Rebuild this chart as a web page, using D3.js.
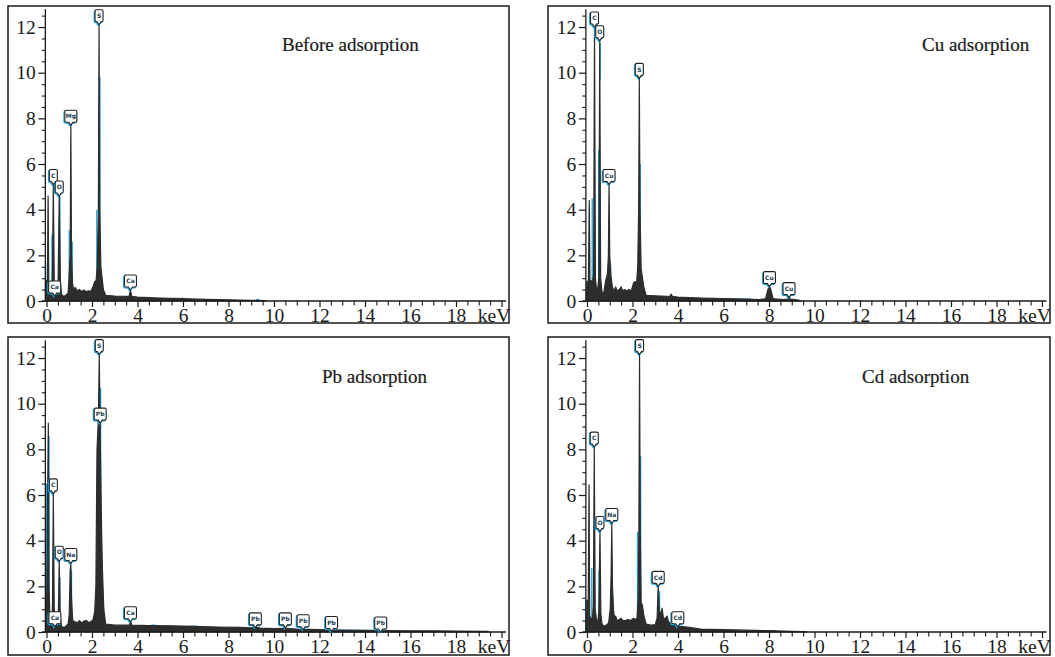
<!DOCTYPE html>
<html>
<head>
<meta charset="utf-8">
<script src="https://cdn.jsdelivr.net/npm/d3@7"></script>
<style>
  html, body { margin: 0; padding: 0; background: #fff; }
  svg { display: block; }
</style>
</head>
<body>
<svg id="chart" width="1055" height="657"></svg>
<script>
// EDS spectra of the adsorbent: energy (keV) vs. counts (thousands)

const panelTitles = ["Before adsorption", "Cu adsorption", "Pb adsorption", "Cd adsorption"];

const xTickValues = [0, 2, 4, 6, 8, 10, 12, 14, 16, 18, 20];
const xTickLabels = ["0", "2", "4", "6", "8", "10", "12", "14", "16", "18", "keV"];
const yTickValues = [0, 2, 4, 6, 8, 10, 12];

// spectrum outlines: [keV, counts]
const spectrumBefore = [[-0.02,0],[0.00,0.9],[0.04,0.7],[0.07,4.6],[0.10,0.7],[0.16,0.45],[0.22,0.5],[0.26,1.0],[0.30,5.1],[0.34,0.9],[0.40,0.5],[0.46,0.6],[0.51,0.9],[0.56,4.6],[0.61,0.8],[0.66,0.3],[0.75,0.2],[0.85,0.25],[0.95,0.35],[1.00,1.2],[1.04,2.0],[1.07,7.7],[1.10,2.0],[1.14,0.8],[1.20,0.45],[1.26,0.6],[1.35,0.45],[1.45,0.5],[1.55,0.42],[1.65,0.48],[1.75,0.4],[1.85,0.45],[1.95,0.42],[2.05,0.65],[2.12,0.85],[2.18,0.9],[2.23,1.5],[2.28,4.0],[2.31,12.1],[2.34,4.0],[2.39,1.5],[2.44,1.05],[2.50,0.5],[2.60,0.25],[3.0,0.22],[3.4,0.2],[3.63,0.2],[3.69,0.48],[3.75,0.2],[4.0,0.17],[4.5,0.15],[5.0,0.13],[6.0,0.1],[7.0,0.07],[8.0,0.05],[9.0,0.03],[9.6,0.02],[9.65,0]];

const spectrumCu = [[-0.02,0],[0.0,0.85],[0.06,0.7],[0.10,4.4],[0.13,0.8],[0.18,0.9],[0.24,0.8],[0.29,1.2],[0.33,12.0],[0.37,1.0],[0.42,0.5],[0.48,0.6],[0.52,1.0],[0.56,11.4],[0.60,1.0],[0.66,0.4],[0.74,0.35],[0.82,0.9],[0.90,1.2],[0.94,2.0],[0.97,5.1],[1.00,2.0],[1.05,1.1],[1.12,0.6],[1.2,0.45],[1.26,0.62],[1.32,0.45],[1.42,0.5],[1.50,0.62],[1.56,0.45],[1.65,0.5],[1.75,0.45],[1.85,0.5],[1.95,0.45],[2.05,0.8],[2.12,0.85],[2.18,0.8],[2.23,1.5],[2.27,4.0],[2.30,9.75],[2.33,4.0],[2.38,1.4],[2.44,1.0],[2.50,0.6],[2.60,0.25],[3.0,0.23],[3.5,0.2],[3.65,0.22],[3.70,0.3],[3.76,0.2],[4.0,0.17],[5.0,0.13],[6.0,0.1],[7.0,0.08],[7.6,0.06],[7.85,0.1],[7.95,0.5],[8.02,0.63],[8.08,0.5],[8.18,0.1],[8.6,0.06],[8.82,0.08],[8.88,0.2],[8.94,0.08],[9.3,0.04],[9.4,0]];

const spectrumPb = [[-0.02,0],[0.0,1.0],[0.03,3.0],[0.05,6.0],[0.08,9.15],[0.11,2.0],[0.15,0.6],[0.22,0.5],[0.26,1.0],[0.30,6.05],[0.34,1.0],[0.40,0.5],[0.46,0.4],[0.52,0.8],[0.56,3.1],[0.60,0.7],[0.66,0.25],[0.75,0.2],[0.85,0.25],[0.95,0.35],[1.00,0.8],[1.04,2.7],[1.07,3.0],[1.10,1.5],[1.15,0.5],[1.25,0.45],[1.35,0.4],[1.45,0.5],[1.55,0.4],[1.65,0.48],[1.75,0.5],[1.85,0.42],[1.95,0.45],[2.05,0.55],[2.12,0.9],[2.17,2.0],[2.22,8.0],[2.28,9.3],[2.32,12.15],[2.35,9.5],[2.42,4.5],[2.46,2.7],[2.52,1.0],[2.60,0.35],[3.0,0.3],[3.5,0.3],[3.64,0.3],[3.69,0.5],[3.75,0.3],[4.5,0.28],[5.5,0.27],[6.5,0.25],[7.5,0.22],[8.5,0.2],[9.0,0.18],[9.2,0.22],[9.4,0.17],[10.0,0.15],[10.5,0.16],[11.0,0.13],[12.0,0.1],[13.0,0.08],[14.0,0.07],[15.0,0.06],[16.0,0.05],[17.0,0.05],[18.0,0.04],[19.4,0.03],[19.45,0]];

const spectrumCd = [[-0.02,0],[0.0,1.4],[0.05,0.6],[0.09,6.45],[0.12,0.7],[0.17,0.6],[0.24,0.6],[0.28,1.2],[0.32,8.1],[0.36,1.0],[0.42,0.5],[0.48,0.5],[0.52,0.9],[0.57,4.4],[0.61,0.8],[0.66,0.35],[0.75,0.25],[0.85,0.3],[0.95,0.4],[1.02,1.0],[1.06,2.5],[1.09,4.75],[1.12,2.0],[1.16,1.0],[1.21,0.6],[1.26,0.7],[1.32,0.5],[1.42,0.55],[1.50,0.6],[1.58,0.5],[1.68,0.5],[1.80,0.55],[1.92,0.5],[2.05,0.6],[2.12,0.55],[2.20,0.6],[2.25,1.5],[2.28,4.4],[2.31,12.15],[2.34,4.5],[2.38,1.3],[2.44,1.15],[2.50,0.7],[2.60,0.35],[2.8,0.3],[3.0,0.32],[3.08,0.6],[3.13,2.0],[3.18,0.9],[3.25,0.8],[3.30,1.05],[3.36,0.6],[3.45,0.6],[3.52,0.7],[3.58,0.45],[3.75,0.35],[3.95,0.3],[4.1,0.25],[4.5,0.2],[5.0,0.13],[6.0,0.1],[7.0,0.08],[8.0,0.06],[9.0,0.03],[9.6,0.02],[9.65,0]];

// secondary (cyan) trace segments: [[keV, counts], [keV, counts]]
const traceBefore = [[[-0.04,0],[-0.04,1.7]],[[0.24,0.5],[0.24,2.9]],[[0.59,0.8],[0.59,4.6]],[[1.0,1.0],[1.0,3.1]],[[1.13,0.8],[1.13,2.6]],[[2.21,1.0],[2.21,4.0]],[[2.35,1.0],[2.35,9.8]],[[5.85,0.1],[6.0,0.12]],[[9.2,0.05],[9.35,0.08]]];
const traceCu = [[[0.0,0],[0.0,0.9]],[[0.23,0.8],[0.23,4.5]],[[0.51,0.5],[0.51,6.6]],[[0.58,9.7],[0.58,11.3]],[[1.04,1.0],[1.04,1.6]],[[2.34,1.0],[2.34,6.0]],[[6.1,0.09],[7.2,0.08]]];
const tracePb = [[[0.0,0.5],[0.0,6.5]],[[0.11,1.0],[0.11,8.6]],[[0.59,0.5],[0.59,2.4]],[[1.1,0.5],[1.1,2.7]],[[2.18,0.8],[2.18,1.8]],[[2.38,2.0],[2.38,10.7]],[[4.6,0.3],[4.8,0.3]],[[6.3,0.25],[6.6,0.26]],[[10.5,0.1],[14.7,0.06]]];
const traceCd = [[[-0.05,0],[-0.05,1.4]],[[0.21,0.6],[0.21,2.8]],[[0.53,0.5],[0.53,2.7]],[[1.14,0.8],[1.14,1.6]],[[2.22,0.6],[2.22,4.4]],[[2.36,1.3],[2.36,7.7]],[[3.19,0.8],[3.19,1.8]],[[5.8,0.1],[6.0,0.11]],[[7.8,0.06],[8.3,0.06]]];

// peak markers: [element, keV, counts]
const peaksBefore = [["C",0.30,5.1],["O",0.56,4.6],["Mg",1.07,7.7],["S",2.31,12.1],["Ca",3.69,0.48],["Ca",0.36,0.22]];
const peaksCu = [["C",0.33,12.0],["O",0.56,11.4],["Cu",0.97,5.1],["S",2.30,9.75],["Cu",8.02,0.63],["Cu",8.88,0.15]];
const peaksPb = [["C",0.30,6.05],["O",0.56,3.1],["Na",1.07,3.0],["Ca",0.37,0.23],["S",2.32,12.15],["Pb",2.36,9.15],["Ca",3.69,0.45],["Pb",9.18,0.18],["Pb",10.5,0.18],["Pb",11.28,0.1],["Pb",12.53,0.02],["Pb",14.69,0.0]];
const peaksCd = [["C",0.32,8.1],["O",0.57,4.4],["Na",1.09,4.75],["S",2.31,12.15],["Cd",3.13,2.0],["Cd",3.99,0.23]];

// layout of the four panels
const panels = [
  { title: panelTitles[0], spectrum: spectrumBefore, trace: traceBefore, peaks: peaksBefore,
    frame: [8, 6, 501, 317], x0: 46.5, y0: 301, titleX: 282, titleY: 51 },
  { title: panelTitles[1], spectrum: spectrumCu, trace: traceCu, peaks: peaksCu,
    frame: [548, 6, 502, 317], x0: 587, y0: 301, titleX: 922, titleY: 51 },
  { title: panelTitles[2], spectrum: spectrumPb, trace: tracePb, peaks: peaksPb,
    frame: [8, 337, 501, 318], x0: 46.5, y0: 632, titleX: 322, titleY: 383 },
  { title: panelTitles[3], spectrum: spectrumCd, trace: traceCd, peaks: peaksCd,
    frame: [548, 337, 502, 318], x0: 587, y0: 632, titleX: 862, titleY: 383 }
];

const INK = "#2d2d2d";
const CYAN = "#1ea6de";
const SERIF = "'Liberation Serif', 'Times New Roman', serif";
const pxPerKeV = 22.75;
const pxPerUnit = 22.83;

const svg = d3.select("#chart");

panels.forEach(p => {
  const g = svg.append("g");
  const x = d3.scaleLinear().domain([0, 20]).range([p.x0, p.x0 + 20 * pxPerKeV]);
  const y = d3.scaleLinear().domain([0, 12]).range([p.y0, p.y0 - 12 * pxPerUnit]);

  // frame
  g.append("rect")
    .attr("x", p.frame[0]).attr("y", p.frame[1])
    .attr("width", p.frame[2]).attr("height", p.frame[3])
    .attr("fill", "none").attr("stroke", "#1a1a1a").attr("stroke-width", 1.5);

  // title
  g.append("text")
    .attr("x", p.titleX).attr("y", p.titleY)
    .attr("font-family", SERIF).attr("font-size", 19)
    .attr("fill", "#1a1a1a").attr("stroke", "#1a1a1a").attr("stroke-width", 0.2)
    .text(p.title);

  // cyan trace under the spectrum
  const line = d3.line().x(d => x(d[0])).y(d => y(d[1]));
  g.append("g").selectAll("path").data(p.trace).join("path")
    .attr("d", line)
    .attr("fill", "none").attr("stroke", CYAN).attr("stroke-width", 1.3);

  // spectrum
  const area = d3.area().x(d => x(d[0])).y0(y(0)).y1(d => y(d[1]));
  g.append("path")
    .datum(p.spectrum)
    .attr("d", area)
    .attr("fill", INK).attr("stroke", INK)
    .attr("stroke-width", 1.2).attr("stroke-linejoin", "round");

  // x axis: minor ticks every 0.5 keV, labelled ticks every 2 keV
  const xMinor = d3.range(0, 20.01, 0.5).filter(v => v % 2 !== 0);
  g.append("g")
    .attr("transform", `translate(0,${y(0)})`)
    .call(d3.axisBottom(x).tickValues(xMinor).tickSize(4.5).tickFormat(""))
    .call(a => a.select(".domain").remove())
    .call(a => a.selectAll("line").attr("stroke", "#1a1a1a").attr("stroke-width", 1.1));
  const xAxis = g.append("g")
    .attr("transform", `translate(0,${y(0)})`)
    .call(d3.axisBottom(x).tickValues(xTickValues).tickSize(6).tickPadding(1)
      .tickFormat((d, i) => xTickLabels[i]))
    .call(a => a.select(".domain").remove())
    .call(a => a.selectAll("line").attr("stroke", "#1a1a1a").attr("stroke-width", 1.2));
  xAxis.selectAll("text")
    .attr("font-family", SERIF).attr("font-size", 19.5).attr("fill", "#1a1a1a")
    .filter(d => d === 20).attr("x", -8);
  g.append("line")
    .attr("x1", x(-0.2)).attr("x2", x(20.2))
    .attr("y1", y(0)).attr("y2", y(0))
    .attr("stroke", "#1a1a1a").attr("stroke-width", 1.3);

  // y axis
  const yMinor = d3.range(0, 12.51, 0.5).filter(v => v % 2 !== 0);
  const yAxisX = x(-0.05);
  g.append("g")
    .attr("transform", `translate(${yAxisX},0)`)
    .call(d3.axisLeft(y).tickValues(yMinor).tickSize(3.5).tickFormat(""))
    .call(a => a.select(".domain").remove())
    .call(a => a.selectAll("line").attr("stroke", "#1a1a1a").attr("stroke-width", 1.1));
  g.append("g")
    .attr("transform", `translate(${yAxisX},0)`)
    .call(d3.axisLeft(y).tickValues(yTickValues).tickSize(7).tickPadding(2.5))
    .call(a => a.select(".domain").remove())
    .call(a => a.selectAll("line").attr("stroke", "#1a1a1a").attr("stroke-width", 1.2))
    .call(a => a.selectAll("text").attr("font-family", SERIF).attr("font-size", 19.5).attr("fill", "#1a1a1a"));
  g.append("line")
    .attr("x1", yAxisX).attr("x2", yAxisX)
    .attr("y1", y(0)).attr("y2", y(12.78))
    .attr("stroke", "#1a1a1a").attr("stroke-width", 1.3);

  // peak markers: small callout boxes pointing at each peak
  const marker = g.append("g").selectAll("g").data(p.peaks).join("g")
    .attr("transform", d => `translate(${x(d[1])},${y(d[2])})`);
  const callout = d => {
    const w = d[0].length > 1 ? 12 : 8, h = 12, t = 3, r = 1.5;
    const l = -w / 2, top = -(h + t);
    return `M${l + r},${top} H${w / 2 - r} Q${w / 2},${top} ${w / 2},${top + r} V${-t - r}` +
      ` Q${w / 2},${-t} ${w / 2 - r},${-t} H2 L0,0 L-2,${-t} H${l + r}` +
      ` Q${l},${-t} ${l},${-t - r} V${top + r} Q${l},${top} ${l + r},${top} Z`;
  };
  marker.append("path")
    .attr("d", callout)
    .attr("transform", "translate(-0.8,0.8)")
    .attr("fill", "none").attr("stroke", CYAN).attr("stroke-width", 1.3);
  marker.append("path")
    .attr("d", callout)
    .attr("fill", "#fff").attr("stroke", "#222").attr("stroke-width", 1.1);
  marker.append("text")
    .attr("y", -6.8)
    .attr("text-anchor", "middle")
    .attr("font-family", "'DejaVu Sans', sans-serif")
    .attr("font-size", 6).attr("font-weight", "bold")
    .attr("fill", "#1a3a4a")
    .text(d => d[0]);
});
</script>
</body>
</html>
